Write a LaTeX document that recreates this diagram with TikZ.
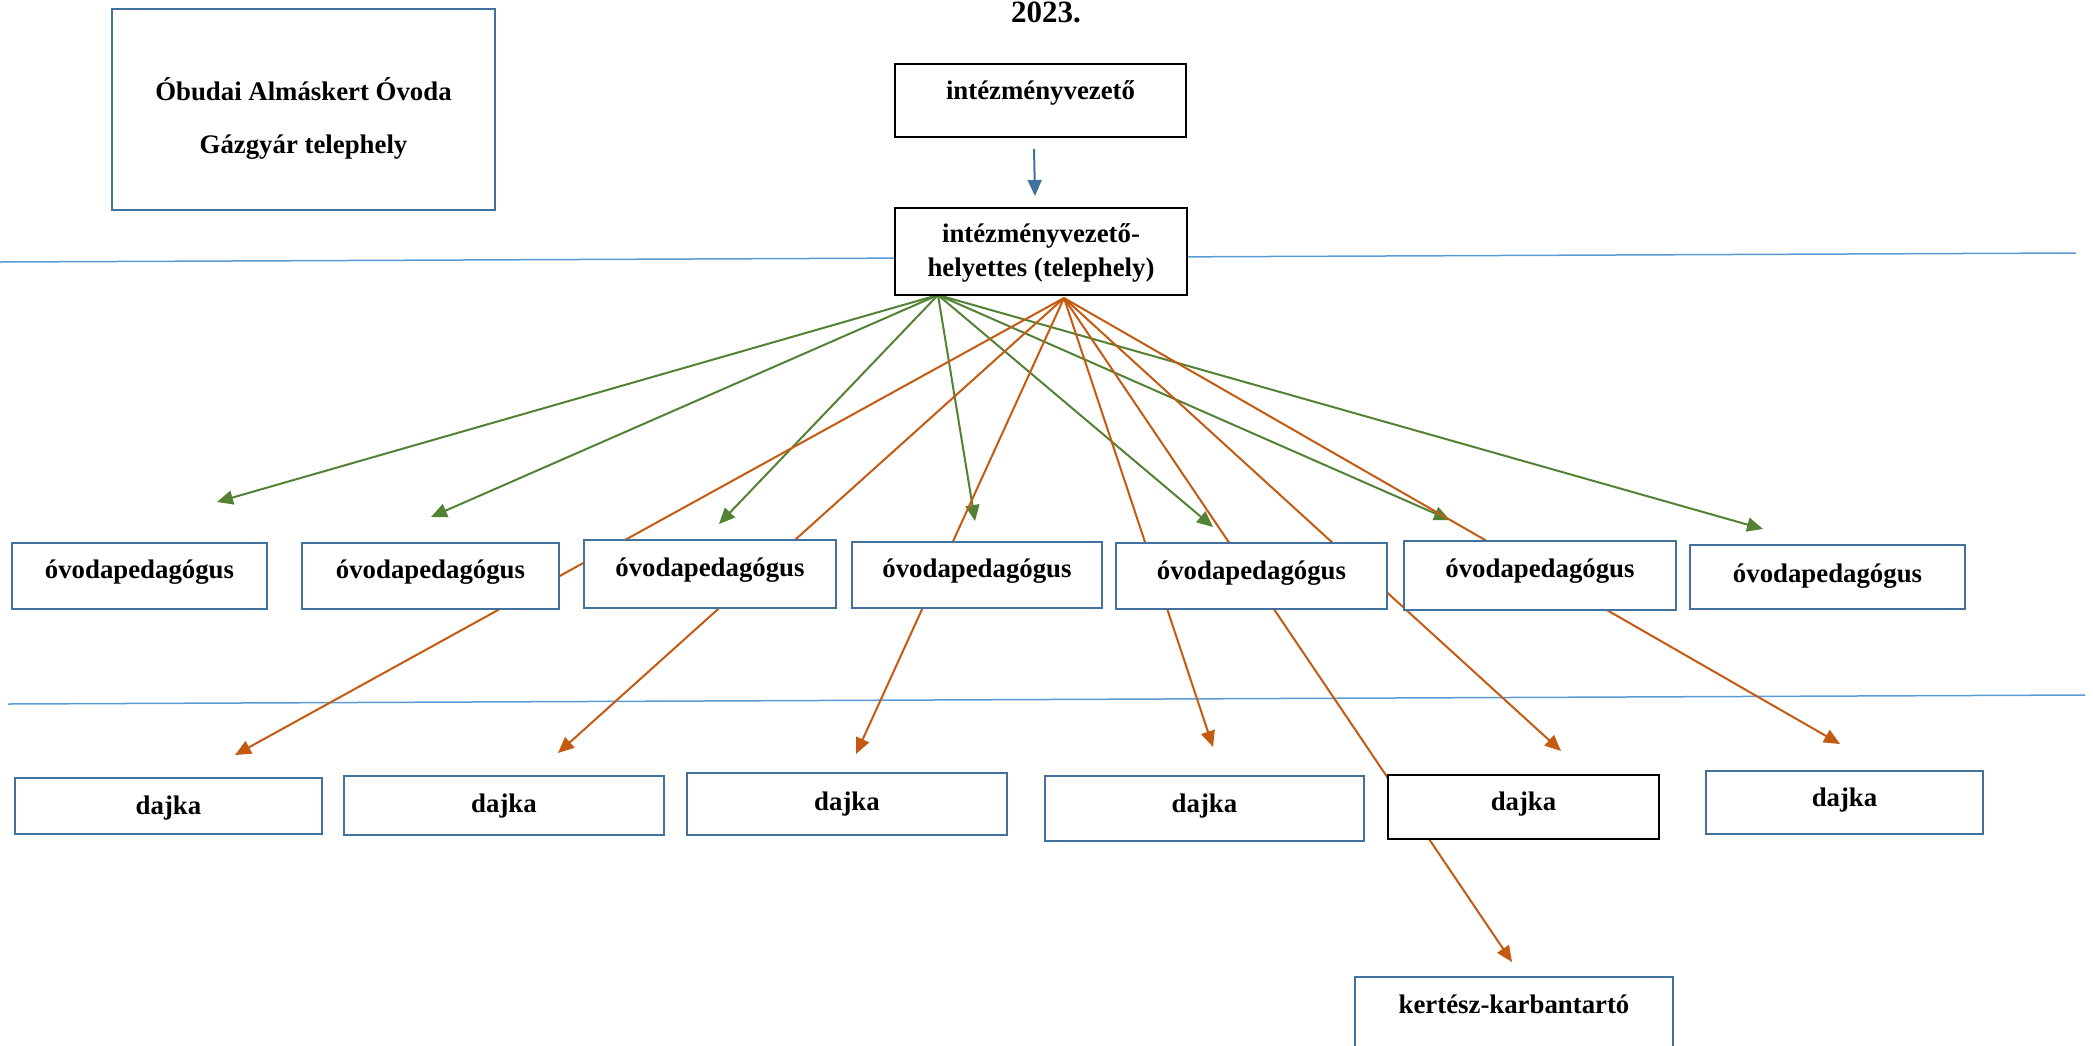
\documentclass[tikz,border=0pt]{standalone}
\usepackage{fontspec}
\setmainfont{Liberation Serif}
\usetikzlibrary{arrows.meta}
\definecolor{boxblue}{HTML}{41719C}
\definecolor{lineblue}{HTML}{5B9BD5}
\definecolor{arrgreen}{HTML}{548235}
\definecolor{arrorange}{HTML}{C55A11}
\begin{document}
\begin{tikzpicture}[x=0.5pt,y=-0.5pt,
  bluebox/.style={draw=boxblue,line width=1.25pt,fill=white,inner sep=0pt},
  blackbox/.style={draw=black,line width=1pt,fill=white,inner sep=0pt},
  lbl/.style={anchor=base,inner sep=0pt,font=\fontsize{13.4}{16}\selectfont\bfseries},
  ahead/.style={-{Triangle[length=8pt,width=7pt]}},
  garrow/.style={draw=arrgreen,line width=1pt,ahead},
  oarrow/.style={draw=arrorange,line width=1pt,ahead},
  barrow/.style={draw=boxblue,line width=1pt,ahead},
  sepline/.style={draw=lineblue,line width=0.75pt}]
\useasboundingbox (0,0) rectangle (2093,1045);
\clip (0,0) rectangle (2093,1045);
\fill[white] (0,0) rectangle (2093,1045);

% separator lines
\coordinate (s1a) at (0,262);
\coordinate (s1b) at (2076,253);
\coordinate (s2a) at (8,704);
\coordinate (s2b) at (2085,695);
\draw[sepline] (s1a) -- (s1b);
\draw[sepline] (s2a) -- (s2b);

% arrow ends
\coordinate (bSrc) at (1034,149);
\coordinate (bTip) at (1035,196);
\coordinate (gSrc) at (938,295);
\coordinate (g1) at (217,502);
\coordinate (g2) at (431,517);
\coordinate (g3) at (719,524);
\coordinate (g4) at (975,521);
\coordinate (g5) at (1213,527);
\coordinate (g6) at (1450,520);
\coordinate (g7) at (1763,529);
\coordinate (oSrc) at (1064,298);
\coordinate (r1) at (235,755);
\coordinate (r2) at (558,753);
\coordinate (r3) at (856,754);
\coordinate (r4) at (1213,747);
\coordinate (r5) at (1512,962);
\coordinate (r6) at (1561,751);
\coordinate (r7) at (1840,744);

\draw[barrow] (bSrc) -- (bTip);
\foreach \t in {g1,g2,g3,g4,g5,g6,g7} \draw[garrow] (gSrc) -- (\t);
\foreach \t in {r1,r2,r3,r4,r5,r6,r7} \draw[oarrow] (oSrc) -- (\t);

% boxes
\node[bluebox,minimum width=191.5pt,minimum height=100.5pt] (title) at (303.5,109.5) {};
\node[blackbox,minimum width=145.5pt,minimum height=36.5pt] (iv) at (1040.5,100.5) {};
\node[blackbox,minimum width=146pt,minimum height=43.5pt] (ivh) at (1041,251.5) {};
\node[bluebox,minimum width=127.5pt,minimum height=33pt] (o1) at (139.5,576) {};
\node[bluebox,minimum width=128.5pt,minimum height=33pt] (o2) at (430.5,576) {};
\node[bluebox,minimum width=126pt,minimum height=34pt] (o3) at (710,574) {};
\node[bluebox,minimum width=125pt,minimum height=33pt] (o4) at (977,575) {};
\node[bluebox,minimum width=135.5pt,minimum height=33pt] (o5) at (1251.5,576) {};
\node[bluebox,minimum width=136pt,minimum height=34.5pt] (o6) at (1540,575.5) {};
\node[bluebox,minimum width=137.5pt,minimum height=32pt] (o7) at (1827.5,577) {};
\node[bluebox,minimum width=153.5pt,minimum height=28pt] (d1) at (168.5,806) {};
\node[bluebox,minimum width=160pt,minimum height=29.5pt] (d2) at (504,805.5) {};
\node[bluebox,minimum width=160pt,minimum height=31pt] (d3) at (847,804) {};
\node[bluebox,minimum width=159.5pt,minimum height=32.5pt] (d4) at (1204.5,808.5) {};
\node[blackbox,minimum width=135.5pt,minimum height=32pt] (d5) at (1523.5,807) {};
\node[bluebox,minimum width=138.5pt,minimum height=31.5pt] (d6) at (1844.5,802.5) {};
\node[bluebox,minimum width=159pt,minimum height=51.5pt] (k) at (1514,1028.5) {};

% texts
\node[lbl,font=\fontsize{15.5}{18}\selectfont\bfseries] (year) at (1046,22) {2023.};
\node[lbl] (tt1) at (303.5,100) {Óbudai Almáskert Óvoda};
\node[lbl] (tt2) at (303.5,153) {Gázgyár telephely};
\node[lbl] (tiv) at (1040.5,99) {intézményvezető};
\node[lbl] (tivh1) at (1041,242) {intézményvezető-};
\node[lbl] (tivh2) at (1041,276) {helyettes (telephely)};
\node[lbl] (to1) at (139.5,578) {óvodapedagógus};
\node[lbl] (to2) at (430.5,578) {óvodapedagógus};
\node[lbl] (to3) at (710,576) {óvodapedagógus};
\node[lbl] (to4) at (977,577) {óvodapedagógus};
\node[lbl] (to5) at (1251.5,579) {óvodapedagógus};
\node[lbl] (to6) at (1540,577) {óvodapedagógus};
\node[lbl] (to7) at (1827.5,582) {óvodapedagógus};
\node[lbl] (td1) at (168.5,814) {dajka};
\node[lbl] (td2) at (504,812) {dajka};
\node[lbl] (td3) at (847,810) {dajka};
\node[lbl] (td4) at (1204.5,812) {dajka};
\node[lbl] (td5) at (1523.5,810) {dajka};
\node[lbl] (td6) at (1844.5,806) {dajka};
\node[lbl] (tk) at (1514,1013) {kertész-karbantartó};
\end{tikzpicture}
\end{document}
